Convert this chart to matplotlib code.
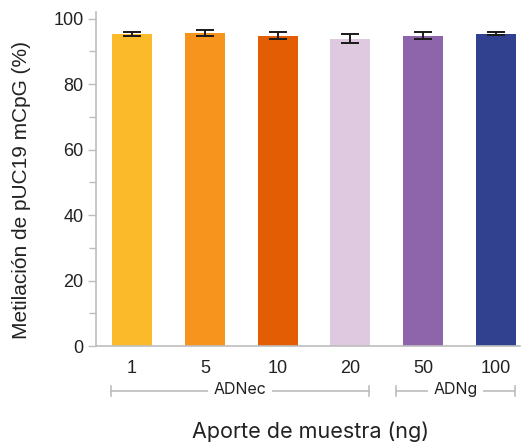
"""Bar chart: pUC19 mCpG methylation across sample input amounts."""
import matplotlib
matplotlib.use("Agg")
import matplotlib.pyplot as plt
import matplotlib.transforms as mtransforms
from matplotlib.ticker import MultipleLocator

# Sample input (ng) and measured methylation
inputs = ["1", "5", "10", "20", "50", "100"]
methylation = [95.4, 95.5, 94.8, 93.9, 94.8, 95.4]
errors = [0.6, 0.9, 1.0, 1.3, 1.0, 0.4]
bar_colors = ["#FBBA2A", "#F7941D", "#E35D04", "#DFC9E1", "#8E64AA", "#32418F"]

# DNA type groups: (label, left edge, right edge) in bar-index units
groups = [("ADNec", -0.29, 3.25), ("ADNg", 3.63, 5.26)]

GRID = "#BDBDBD"
LABEL_FONT = ["Inter", "DejaVu Sans"]
plt.rcParams["font.family"] = ["Liberation Sans", "DejaVu Sans"]

fig = plt.figure(figsize=(5.21, 4.44), dpi=100)
ax = fig.add_axes([96 / 521, 1 - 346 / 444, (520 - 96) / 521, (346 - 12) / 444])

x = list(range(len(inputs)))
ax.bar(x, methylation, width=0.55, color=bar_colors, zorder=2)
ax.errorbar(x, methylation, yerr=errors, fmt="none", ecolor="#1a1a1a",
            elinewidth=1.4, capsize=6.5, capthick=1.4, zorder=3)

ax.set_xlim(-0.495, 5.33)
ax.set_ylim(0, 102)
ax.yaxis.set_major_locator(MultipleLocator(20))
ax.yaxis.set_minor_locator(MultipleLocator(10))
ax.set_xticks(x)
ax.set_xticklabels(inputs)
ax.tick_params(axis="y", which="major", length=6, width=1, color=GRID,
               labelsize=13, labelcolor="#222222", pad=3)
ax.tick_params(axis="y", which="minor", length=5, width=1, color=GRID)
ax.tick_params(axis="x", length=0, pad=10, labelsize=13, labelcolor="#222222")

for side in ("top", "right"):
    ax.spines[side].set_visible(False)
for side in ("left", "bottom"):
    ax.spines[side].set_color(GRID)
    ax.spines[side].set_linewidth(1.2)

fig.text(22 / 521, 1 - 190 / 444, "Metilación de pUC19 mCpG (%)", rotation=90,
         ha="center", va="center", fontsize=15, color="#222222")
fig.text(311 / 521, 1 - 432 / 444, "Aporte de muestra (ng)", ha="center",
         va="center", fontfamily=LABEL_FONT, fontsize=15.5, color="#222222")

# Group brackets below the tick labels
trans = mtransforms.blended_transform_factory(ax.transData, fig.transFigure)
y_br = 1 - 391 / 444
cap = 5 / 444
for label, left, right in groups:
    ax.plot([left, right], [y_br, y_br], color=GRID, lw=1.2,
            transform=trans, clip_on=False)
    for xe in (left, right):
        ax.plot([xe, xe], [y_br - cap, y_br + cap], color=GRID, lw=1.2,
                transform=trans, clip_on=False)
    ax.text((left + right) / 2, y_br + 2 / 444, label, transform=trans,
            ha="center", va="center", fontfamily=LABEL_FONT, fontsize=11.5,
            color="#222222",
            bbox=dict(facecolor="white", edgecolor="none", pad=4))

fig.savefig("out.png", dpi=100)
